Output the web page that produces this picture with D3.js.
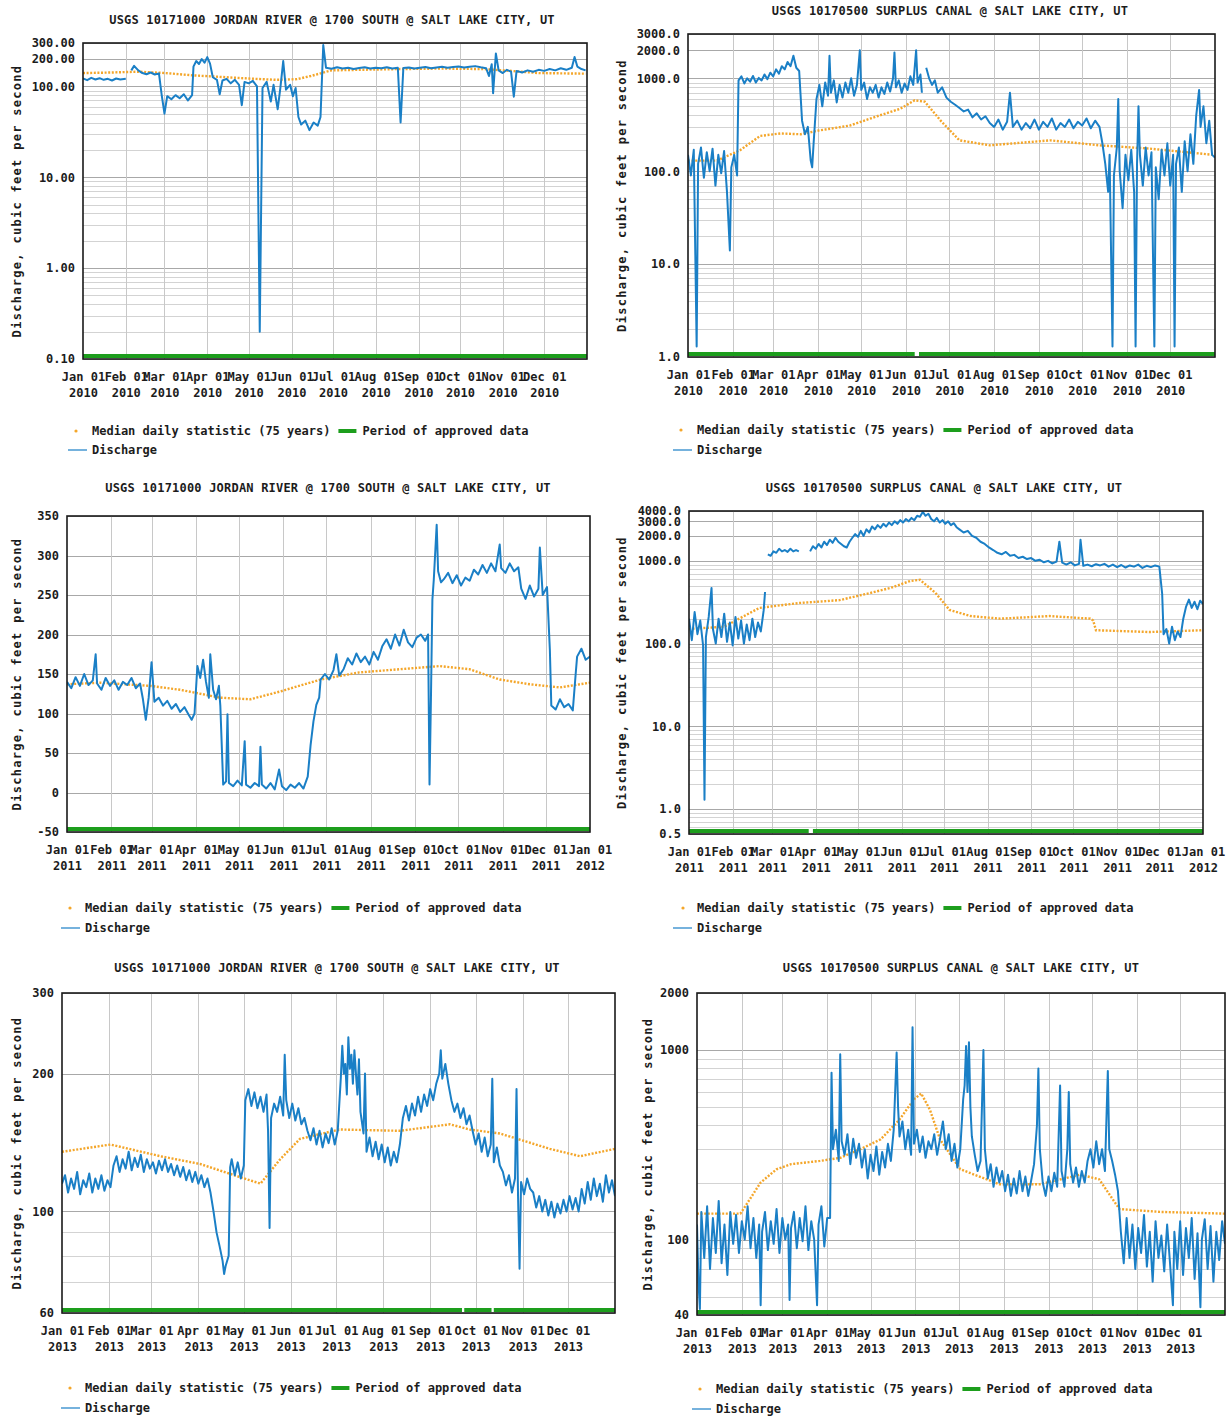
<!DOCTYPE html>
<html>
<head>
<meta charset="utf-8">
<script src="https://cdn.jsdelivr.net/npm/d3@7"></script>
<style>
  body { margin: 0; background: #fff; }
  svg { display: block; }
  text { font-family: "DejaVu Sans Mono", monospace; font-weight: bold; fill: #1c1c1c; }
</style>
</head>
<body>
<svg id="chart" width="1227" height="1416"></svg>
<script>
// ---------- Station titles ----------
const TITLE_JORDAN = "USGS 10171000 JORDAN RIVER @ 1700 SOUTH @ SALT LAKE CITY, UT";
const TITLE_SURPLUS = "USGS 10170500 SURPLUS CANAL @ SALT LAKE CITY, UT";
const Y_TITLE = "Discharge, cubic feet per second";
const LEGEND_MEDIAN = "Median daily statistic (75 years)";
const LEGEND_APPROVED = "Period of approved data";
const LEGEND_FLOW = "Discharge";

// ---------- Discharge, [day of year, cfs] ----------
const jordan2010Flow = [
  [0,122],[3,117],[6,124],[9,119],[12,123],[15,118],[18,121],[21,116],[24,122],[27,119],[31,121],[33,null],
  [35,150],[37,168],[40,150],[43,140],[46,136],[49,142],[52,135],[55,139],
  [57,80],[59,50],[61,78],[64,72],[67,80],[70,74],[73,82],[76,70],[79,80],
  [80,165],[82,190],[84,176],[86,200],[88,182],[90,210],[92,178],
  [94,126],[97,118],[99,82],[101,116],[104,121],[107,108],[110,118],[113,104],[115,62],[117,112],[120,108],[123,115],
  [126,100],[128,0.2],[130,96],[133,112],[136,68],[138,104],[141,56],[143,98],[145,190],[147,92],[150,104],[152,78],[154,96],
  [156,46],[158,38],[161,42],[164,33],[167,40],[170,37],[172,46],
  [174,285],[176,160],[180,156],[184,162],[188,157],[192,160],[196,155],[200,159],[204,162],[208,157],[212,160],[216,158],
  [220,162],[224,157],[228,160],[230,40],[232,159],[236,161],[240,157],[244,160],[248,163],[252,158],[256,161],[260,164],
  [264,160],[268,163],[272,165],[276,161],[280,164],[284,167],[288,162],[292,158],
  [294,130],[296,175],[297,84],[299,230],[301,150],[304,140],[307,152],[310,145],[312,77],[314,148],[318,142],[322,150],
  [326,145],[330,152],[334,148],[338,155],[342,150],[346,158],[350,152],[354,160],[356,210],[358,165],[361,155],[364,150]
];
const jordan2010Median = [
  [0,140],[20,142],[40,145],[60,140],[80,132],[100,127],[120,122],[140,118],[155,120],[165,130],[180,150],[200,152],
  [230,155],[260,157],[290,155],[310,148],[330,140],[364,138]
];

const surplus2010Flow = [
  [0,150],[2,90],[4,170],[6,1.3],[7,120],[9,180],[11,85],[13,160],[15,100],[17,175],[19,70],[21,150],[23,95],[25,165],
  [27,60],[29,14],[30,110],[32,150],[34,90],
  [35,950],[37,1050],[39,880],[41,1000],[43,920],[45,1060],[47,900],[49,1010],[51,950],[53,1100],[55,980],[57,1150],
  [59,1050],[61,1250],[63,1120],[65,1350],[67,1250],[69,1500],[71,1350],[73,1750],[75,1300],[77,1200],
  [79,350],[81,250],[83,300],[85,130],[86,110],[87,200],
  [89,600],[91,850],[93,500],[95,900],[97,650],[98,1750],[99,700],[101,950],[103,550],[105,850],[107,620],[109,900],
  [111,700],[113,1000],[115,650],[117,850],[119,2000],[120,750],[122,900],[124,600],[126,800],
  [128,700],[130,850],[132,620],[134,800],[136,680],[138,900],[140,720],[142,1000],[143,1900],[144,800],[146,950],
  [148,700],[150,880],[152,750],[154,1050],[156,850],[158,2000],[159,900],[161,1100],[162,700],[163,null],
  [165,1300],[167,1000],[169,850],[171,950],
  [173,700],[176,800],[179,620],[182,560],[185,520],[188,480],[191,440],[194,460],[197,380],[200,420],[203,360],
  [206,390],[209,330],
  [212,300],[215,360],[218,280],[221,340],[223,700],[225,300],[228,350],[231,280],[234,330],[237,290],[240,360],
  [243,280],[246,340],[249,300],[252,370],[255,280],[258,330],[261,300],[264,360],[267,290],[270,340],[273,310],
  [276,370],[279,290],[282,350],[285,300],
  [287,200],[289,120],[291,60],[292,150],[294,1.3],[295,90],[297,180],[298,600],[299,100],[301,40],[303,150],[305,80],
  [307,170],[309,60],[310,1.3],[311,120],[312,500],[313,150],[315,70],[317,180],[319,90],[321,160],[323,1.3],[324,110],
  [326,50],[328,170],[330,90],[332,200],[334,70],[336,150],[337,1.3],[338,120],[340,180],[342,60],[344,210],[346,100],
  [348,250],[350,120],[352,400],[354,750],[355,300],[357,500],[359,200],[361,350],[363,150],[365,140]
];
const surplus2010Median = [
  [0,130],[20,130],[36,168],[50,240],[64,255],[78,250],[91,275],[112,310],[133,400],[147,470],[157,580],[164,560],
  [175,350],[188,215],[209,190],[251,215],[285,190],[320,175],[364,150]
];

const jordan2011Flow = [
  [0,140],[3,132],[6,146],[9,135],[12,150],[15,136],[18,142],[20,175],[21,138],[24,130],[27,145],
  [30,135],[33,142],[36,130],[39,140],[42,136],[45,145],[48,132],[51,138],
  [53,118],[55,92],[57,120],
  [59,165],[61,115],[64,120],[67,110],[70,116],[73,106],[76,112],[79,102],[82,108],[85,98],[87,92],[89,100],
  [91,160],[93,145],[95,168],
  [97,140],[99,120],[100,175],[102,130],[104,118],[106,135],[107,110],
  [109,10],[111,14],[112,99],[113,12],[116,8],[119,15],[122,9],[124,65],[125,10],[128,6],[131,12],[134,8],[135,58],[136,10],
  [139,5],[142,12],[145,4],[148,29],[150,8],[153,3],[156,10],[159,6],[162,12],[165,5],
  [168,20],[170,60],[172,90],[174,111],[176,120],[177,143],
  [180,150],[183,143],[186,155],[188,175],[190,148],[193,156],
  [196,170],[199,162],[202,176],[205,165],[208,172],[211,162],[214,178],[217,168],
  [220,185],[223,194],[226,182],[229,200],[232,186],[235,206],[238,190],[241,184],[244,196],
  [247,200],[250,192],[252,200],[253,10],[254,120],
  [255,244],[256,270],[258,339],[259,280],[261,266],[263,270],[266,278],[269,265],[272,275],[275,262],[278,272],[281,268],
  [284,282],[287,276],[290,288],[293,278],[296,290],[299,280],[302,314],[303,284],[306,278],[309,290],[312,280],[315,285],
  [317,258],[320,245],[323,262],[326,248],[329,258],[330,310],[332,250],[335,260],
  [337,180],[338,110],[341,105],[344,118],[347,108],[350,112],[353,104],
  [355,150],[356,172],[359,182],[362,168],[365,172]
];
const jordan2011Median = [
  [0,137],[23,139],[58,135],[79,130],[107,120],[128,118],[149,128],[177,143],[204,152],[232,156],[260,160],[281,156],
  [302,143],[323,137],[344,133],[365,139]
];

const surplus2011Flow = [
  [0,200],[2,110],[4,240],[6,130],[8,190],[10,95],[11,1.3],[12,120],[14,210],[16,470],[17,150],[19,100],[21,200],[23,120],
  [25,230],[27,105],[29,180],[31,95],[33,210],[35,115],[37,190],[39,100],[41,170],[43,110],[45,200],[47,120],[49,180],
  [51,140],[53,250],[54,420],[55,null],
  [56,1200],[58,1150],[60,1300],[62,1250],[64,1400],[66,1300],[68,1350],[70,1280],[72,1400],[74,1300],[76,1350],[78,1300],[79,null],
  [86,1300],[88,1500],[90,1400],[92,1600],[94,1450],[96,1700],[98,1550],[100,1800],[102,1650],[104,1900],[106,1700],
  [108,1600],[110,1500],[112,1450],[114,1700],
  [116,1900],[118,2100],[120,1950],[122,2300],[124,2000],[126,2400],[128,2200],[130,2600],[132,2400],[134,2700],
  [136,2500],[138,2800],[140,2600],[142,2900],[144,2700],[146,3000],[148,2800],[150,3100],[152,2900],[154,3200],
  [156,3000],[158,3300],[160,3100],[162,3500],[164,3400],[166,3900],[168,3500],[170,3700],
  [172,3200],[174,3000],[176,3300],[178,2900],[180,3100],[182,2800],[184,3000],[186,2700],[188,2850],[190,2550],
  [192,2400],[195,2200],[198,2300],[201,2000],[204,1900],[207,1700],[210,1600],[213,1450],
  [216,1350],[219,1250],[222,1200],[225,1280],[228,1150],[231,1180],[234,1080],[237,1120],[240,1050],[243,1080],
  [246,1000],[249,1030],
  [252,960],[255,1000],[258,930],[261,980],[263,1700],[265,950],[268,900],[271,960],[274,880],[277,920],[278,1800],
  [280,870],[283,900],[286,860],[289,910],
  [292,880],[295,920],[298,850],[301,900],[304,840],[307,890],[310,830],[313,880],[316,850],[319,900],[322,820],
  [325,870],[328,840],[331,880],[334,850],
  [336,400],[337,130],[339,150],[341,100],[343,160],[345,110],[347,140],[349,120],[351,200],[353,280],[355,340],
  [357,270],[359,320],[361,260],[363,330],[365,300]
];
const surplus2011Median = [
  [0,150],[25,160],[50,270],[79,310],[107,335],[129,410],[143,470],[157,570],[164,590],[175,410],[185,255],[200,215],
  [221,200],[256,215],[285,200],[287,190],[289,145],[327,138],[365,145]
];

const jordan2013Flow = [
  [0,115],[2,120],[4,110],[6,118],[8,112],[10,122],[12,109],[14,117],[16,113],[18,121],[20,110],[22,118],[24,112],
  [26,120],[28,111],[30,117],[32,113],
  [34,126],[36,132],[38,122],[40,130],[42,124],[44,135],[46,123],[48,131],[50,125],[52,133],[54,122],[56,130],[58,124],
  [60,128],[62,121],[64,129],[66,123],[68,130],[70,122],[72,127],[74,120],[76,126],[78,119],
  [80,125],[82,117],[84,123],[86,116],[88,122],[90,115],[92,120],[94,113],[96,118],[98,110],
  [100,100],[102,90],[104,84],[106,78],[107,73],[108,76],[110,80],
  [111,125],[112,130],[114,120],[116,128],[118,118],[120,126],
  [121,175],[123,185],[125,170],[127,182],[129,168],[131,178],[133,165],[135,180],[136,150],[137,92],[138,160],
  [140,172],[142,165],[144,178],[146,162],[147,220],[148,175],[150,160],[152,172],[154,158],[156,168],[158,155],[160,160],
  [162,150],[164,143],[166,152],[168,140],[170,150],[172,138],[174,148],[176,141],[178,152],[180,140],[182,150],
  [184,195],[185,230],[186,200],[187,210],[188,180],[189,240],[190,205],
  [191,220],[192,190],[193,225],[194,200],[195,180],[196,215],[197,165],
  [199,148],[200,200],[201,135],[203,145],[205,132],[207,142],[209,130],[211,140],[213,128],[215,138],[217,126],[219,135],
  [221,128],[223,140],
  [225,160],[227,170],[229,158],[231,172],[233,162],[235,178],[237,165],[239,180],[241,170],[243,185],[245,175],
  [247,190],[249,200],[250,225],[251,195],[253,210],[255,190],
  [257,175],[259,165],[261,172],[263,160],[265,168],[267,155],[269,162],
  [271,150],[273,140],[275,148],[277,135],[279,145],[281,132],[283,140],[284,195],[285,128],[287,138],[289,126],
  [291,122],[293,114],[295,120],[297,110],[299,118],[300,185],[301,108],[302,75],[303,116],[305,109],[307,118],[309,112],
  [311,110],[313,102],[315,108],[317,100],[319,106],[321,98],[323,105],[325,97],[327,104],[329,99],[331,106],[333,100],
  [335,108],[337,101],[339,107],[341,100],
  [343,112],[345,104],[347,116],[349,106],[351,118],[353,108],[355,115],[357,105],[359,120],[361,110],[363,117],[365,108]
];
const jordan2013Median = [
  [0,135],[32,140],[65,132],[91,127],[117,119],[131,115],[144,130],[157,144],[183,151],[223,150],[256,155],[269,151],
  [289,148],[322,137],[342,132],[365,137]
];

const surplus2013Flow = [
  [0,120],[1,60],[2,43],[3,140],[5,80],[7,150],[9,70],[11,130],[13,85],[15,160],[17,75],[19,120],[21,65],[23,140],
  [25,95],[27,135],[29,85],[31,125],[33,100],[35,150],[37,90],[39,130],[41,80],[43,120],[44,45],[45,110],[47,140],
  [49,88],[51,125],[53,95],[55,145],[57,85],[59,130],[61,100],[63,120],[64,48],[65,115],[67,140],[69,90],[71,130],
  [73,98],[75,150],[77,88],[79,125],[81,100],[83,45],[84,120],[86,150],[88,92],[90,130],[92,130],
  [93,760],[94,300],[96,380],[98,260],[99,950],[100,330],[102,280],[104,360],[106,250],[108,340],[110,270],[112,320],
  [114,240],[116,300],[118,210],[120,280],[122,230],[124,310],[126,220],[128,290],[130,240],[132,320],[134,260],
  [136,380],[138,970],[139,500],[140,350],[142,420],[144,300],[146,380],[148,280],[149,1320],[150,320],
  [152,380],[154,290],[156,350],[158,270],[160,330],[162,300],[164,360],[166,280],[168,340],
  [170,420],[172,300],[174,360],[176,260],[178,320],[180,240],[182,300],[184,550],[185,650],[186,1050],[187,600],
  [188,1100],[189,500],[190,350],[192,280],[194,230],[196,260],[198,1000],[199,300],[201,210],[203,250],[205,190],
  [207,240],[209,200],
  [211,230],[213,180],[215,220],[217,170],[219,210],[221,175],[223,230],[225,180],[227,215],[229,170],[231,205],
  [233,250],[235,400],[236,800],[237,300],[239,200],[241,170],[243,215],[245,180],[247,225],[249,190],[251,650],
  [252,230],[254,190],[256,300],[257,600],[258,250],[260,200],[262,240],[264,190],[266,230],[268,200],[270,260],
  [272,300],[274,240],[276,330],[278,250],[280,300],[282,230],[284,775],[285,300],[287,260],[289,220],[291,180],
  [293,110],[295,75],[297,130],[299,80],[301,120],[303,70],[305,115],[307,85],[309,135],[311,72],[313,110],[315,60],
  [317,125],[319,80],[321,105],[323,68],[325,120],[327,75],[329,45],[330,110],[332,70],[334,125],[336,65],[338,115],
  [340,80],[342,130],[344,62],[346,108],[348,44],[349,100],[351,128],[353,70],[355,118],[357,60],[359,110],[361,78],
  [363,125],[365,95]
];
const surplus2013Median = [
  [0,137],[30,137],[44,200],[55,235],[65,250],[85,260],[99,270],[113,300],[127,338],[140,430],[150,550],[155,590],
  [161,485],[168,338],[182,235],[209,196],[237,196],[265,220],[278,208],[292,145],[320,140],[365,137]
];

// ---------- Approved-data periods, [first day, last day] ----------
const jordan2010Approved = [[0,365]];
const surplus2010Approved = [[0,157],[160,365]];
const jordan2011Approved = [[0,365]];
const surplus2011Approved = [[0,85],[88,365]];
const jordan2013Approved = [[0,264],[265.5,283.5],[285,365]];
const surplus2013Approved = [[0,365]];

// ---------- Axis domains and labelled ticks ----------
const jordan2010YDomain = [0.1, 300];
const jordan2010YTicks = [0.1, 1, 10, 100, 200, 300];
const surplus2010YDomain = [1, 3000];
const surplus2010YTicks = [1, 10, 100, 1000, 2000, 3000];
const jordan2011YDomain = [-50, 350];
const jordan2011YTicks = [-50, 0, 50, 100, 150, 200, 250, 300, 350];
const surplus2011YDomain = [0.5, 4000];
const surplus2011YTicks = [0.5, 1, 10, 100, 1000, 2000, 3000, 4000];
const jordan2013YDomain = [60, 300];
const jordan2013YTicks = [60, 100, 200, 300];
const surplus2013YDomain = [40, 2000];
const surplus2013YTicks = [40, 100, 1000, 2000];

// ---------- Panel layout ----------
const panels = [
  { title: TITLE_JORDAN, year: 2010, flow: jordan2010Flow, median: jordan2010Median, approved: jordan2010Approved,
    log: true, yDomain: jordan2010YDomain, yTicks: jordan2010YTicks, digits: 2, endTick: false,
    box: [83, 43, 504, 316], titleX: 332, titleY: 20, yTitleX: 17, legend: [76, 92, 431, 450] },
  { title: TITLE_SURPLUS, year: 2010, flow: surplus2010Flow, median: surplus2010Median, approved: surplus2010Approved,
    log: true, yDomain: surplus2010YDomain, yTicks: surplus2010YTicks, digits: 1, endTick: false,
    box: [688, 34, 527, 323], titleX: 950, titleY: 11, yTitleX: 622, legend: [681, 697, 430, 450] },
  { title: TITLE_JORDAN, year: 2011, flow: jordan2011Flow, median: jordan2011Median, approved: jordan2011Approved,
    log: false, yDomain: jordan2011YDomain, yTicks: jordan2011YTicks, digits: 0, endTick: true,
    box: [67, 516, 523, 316], titleX: 328, titleY: 488, yTitleX: 17, legend: [70, 85, 908, 928] },
  { title: TITLE_SURPLUS, year: 2011, flow: surplus2011Flow, median: surplus2011Median, approved: surplus2011Approved,
    log: true, yDomain: surplus2011YDomain, yTicks: surplus2011YTicks, digits: 1, endTick: true,
    box: [689, 511, 514, 323], titleX: 944, titleY: 488, yTitleX: 622, legend: [683, 697, 908, 928] },
  { title: TITLE_JORDAN, year: 2013, flow: jordan2013Flow, median: jordan2013Median, approved: jordan2013Approved,
    log: true, yDomain: jordan2013YDomain, yTicks: jordan2013YTicks, digits: 0, endTick: false,
    box: [62, 993, 553, 320], titleX: 337, titleY: 968, yTitleX: 17, legend: [70, 85, 1388, 1408] },
  { title: TITLE_SURPLUS, year: 2013, flow: surplus2013Flow, median: surplus2013Median, approved: surplus2013Approved,
    log: true, yDomain: surplus2013YDomain, yTicks: surplus2013YTicks, digits: 0, endTick: false,
    box: [697, 993, 528, 322], titleX: 961, titleY: 968, yTitleX: 648, legend: [700, 716, 1389, 1409] }
];

const COLORS = { flow: "#1a7fc6", median: "#f4a62a", approved: "#1d9e1d", gridMajor: "#a8a8a8", gridMinor: "#d3d3d3", frame: "#1a1a1a" };
const FONT = 12;

const svg = d3.select("#chart");

panels.forEach((p, i) => drawPanel(p, i));

function drawPanel(p, idx) {
  const [bx, by, w, h] = p.box;
  const g = svg.append("g");
  const t0 = new Date(p.year, 0, 1);
  const t1 = new Date(p.year + 1, 0, 1);
  const x = d3.scaleTime().domain([t0, t1]).range([bx, bx + w]);
  const y = (p.log ? d3.scaleLog() : d3.scaleLinear()).domain(p.yDomain).range([by + h, by]);
  const at = d => new Date(t0.getTime() + d * 864e5);

  const clipId = "clip" + idx;
  g.append("clipPath").attr("id", clipId)
    .append("rect").attr("x", bx).attr("y", by).attr("width", w).attr("height", h);

  // horizontal grid: every log sub-division (or every linear step); labelled values a little darker
  const gridVals = p.log ? y.ticks() : y.ticks(8);
  const labelled = new Set(p.yTicks.map(v => +v.toPrecision(6)));
  g.append("g").selectAll("line").data(gridVals).join("line")
    .attr("x1", bx).attr("x2", bx + w)
    .attr("y1", d => Math.round(y(d)) + 0.5).attr("y2", d => Math.round(y(d)) + 0.5)
    .attr("stroke", d => labelled.has(+d.toPrecision(6)) ? COLORS.gridMajor : COLORS.gridMinor)
    .attr("stroke-width", 1);

  // vertical grid at month starts
  const months = d3.timeMonth.range(t0, d3.timeDay.offset(t1, 1));
  g.append("g").selectAll("line").data(months.filter(m => m > t0 && m < t1)).join("line")
    .attr("x1", d => Math.round(x(d)) + 0.5).attr("x2", d => Math.round(x(d)) + 0.5)
    .attr("y1", by).attr("y2", by + h)
    .attr("stroke", "#c8c8c8").attr("stroke-width", 1);

  const line = d3.line()
    .defined(d => d[1] != null)
    .x(d => x(at(d[0])))
    .y(d => y(d[1]));

  const plot = g.append("g").attr("clip-path", `url(#${clipId})`);

  // median daily statistic, dotted
  plot.append("path").datum(p.median)
    .attr("d", line).attr("fill", "none")
    .attr("stroke", COLORS.median).attr("stroke-width", 2.4)
    .attr("stroke-dasharray", "2,1.6");

  // discharge
  plot.append("path").datum(p.flow)
    .attr("d", line).attr("fill", "none")
    .attr("stroke", COLORS.flow).attr("stroke-width", 2)
    .attr("stroke-linejoin", "round");

  // approved-data bar along the bottom
  g.append("g").selectAll("rect").data(p.approved).join("rect")
    .attr("x", d => x(at(d[0]))).attr("width", d => Math.max(0, x(at(d[1])) - x(at(d[0]))))
    .attr("y", by + h - 5).attr("height", 4)
    .attr("fill", COLORS.approved);

  // frame
  g.append("rect").attr("x", bx).attr("y", by).attr("width", w).attr("height", h)
    .attr("fill", "none").attr("stroke", COLORS.frame).attr("stroke-width", 1.6);

  // y axis labels
  const ya = g.append("g").attr("transform", `translate(${bx},0)`)
    .call(d3.axisLeft(y).tickValues(p.yTicks).tickSize(0).tickPadding(8)
      .tickFormat(d => d.toFixed(p.digits)));
  ya.select(".domain").remove();
  ya.attr("font-family", null).attr("font-size", FONT);
  ya.selectAll("text").attr("font-size", FONT);

  // x axis labels, two lines: "Mon 01" / year
  const xTicks = p.endTick ? months : months.filter(m => m < t1);
  const xa = g.append("g").attr("transform", `translate(0,${by + h})`)
    .call(d3.axisBottom(x).tickValues(xTicks).tickSize(0).tickPadding(13)
      .tickFormat(d3.timeFormat("%b %d")));
  xa.select(".domain").remove();
  xa.attr("font-family", null).attr("font-size", FONT);
  xa.selectAll(".tick text").attr("font-size", FONT).each(function (d) {
    d3.select(this).append("tspan").attr("x", 0).attr("dy", "1.38em").text(d3.timeFormat("%Y")(d));
  });

  // title
  g.append("text").attr("x", p.titleX).attr("y", p.titleY).attr("dy", "0.35em")
    .attr("text-anchor", "middle").attr("font-size", FONT).attr("letter-spacing", 0.2)
    .text(p.title);

  // y axis title
  g.append("text")
    .attr("transform", `translate(${p.yTitleX},${by + h / 2}) rotate(-90)`)
    .attr("text-anchor", "middle").attr("dy", "0.35em")
    .attr("font-size", FONT).attr("letter-spacing", 1.3)
    .text(Y_TITLE);

  // legend
  const [dotX, textX, ly1, ly2] = p.legend;
  const lg = g.append("g");
  lg.append("circle").attr("cx", dotX).attr("cy", ly1).attr("r", 1.6).attr("fill", COLORS.median);
  const t1Text = lg.append("text").attr("x", textX).attr("y", ly1).attr("dy", "0.35em")
    .attr("font-size", FONT).text(LEGEND_MEDIAN);
  const endX = textX + t1Text.node().getComputedTextLength();
  lg.append("rect").attr("x", endX + 8).attr("y", ly1 - 2).attr("width", 18).attr("height", 4)
    .attr("fill", COLORS.approved);
  lg.append("text").attr("x", endX + 32).attr("y", ly1).attr("dy", "0.35em")
    .attr("font-size", FONT).text(LEGEND_APPROVED);
  lg.append("line").attr("x1", textX - 24).attr("x2", textX - 5).attr("y1", ly2).attr("y2", ly2)
    .attr("stroke", COLORS.flow).attr("stroke-width", 1.2);
  lg.append("text").attr("x", textX).attr("y", ly2).attr("dy", "0.35em")
    .attr("font-size", FONT).text(LEGEND_FLOW);
}
</script>
</body>
</html>
